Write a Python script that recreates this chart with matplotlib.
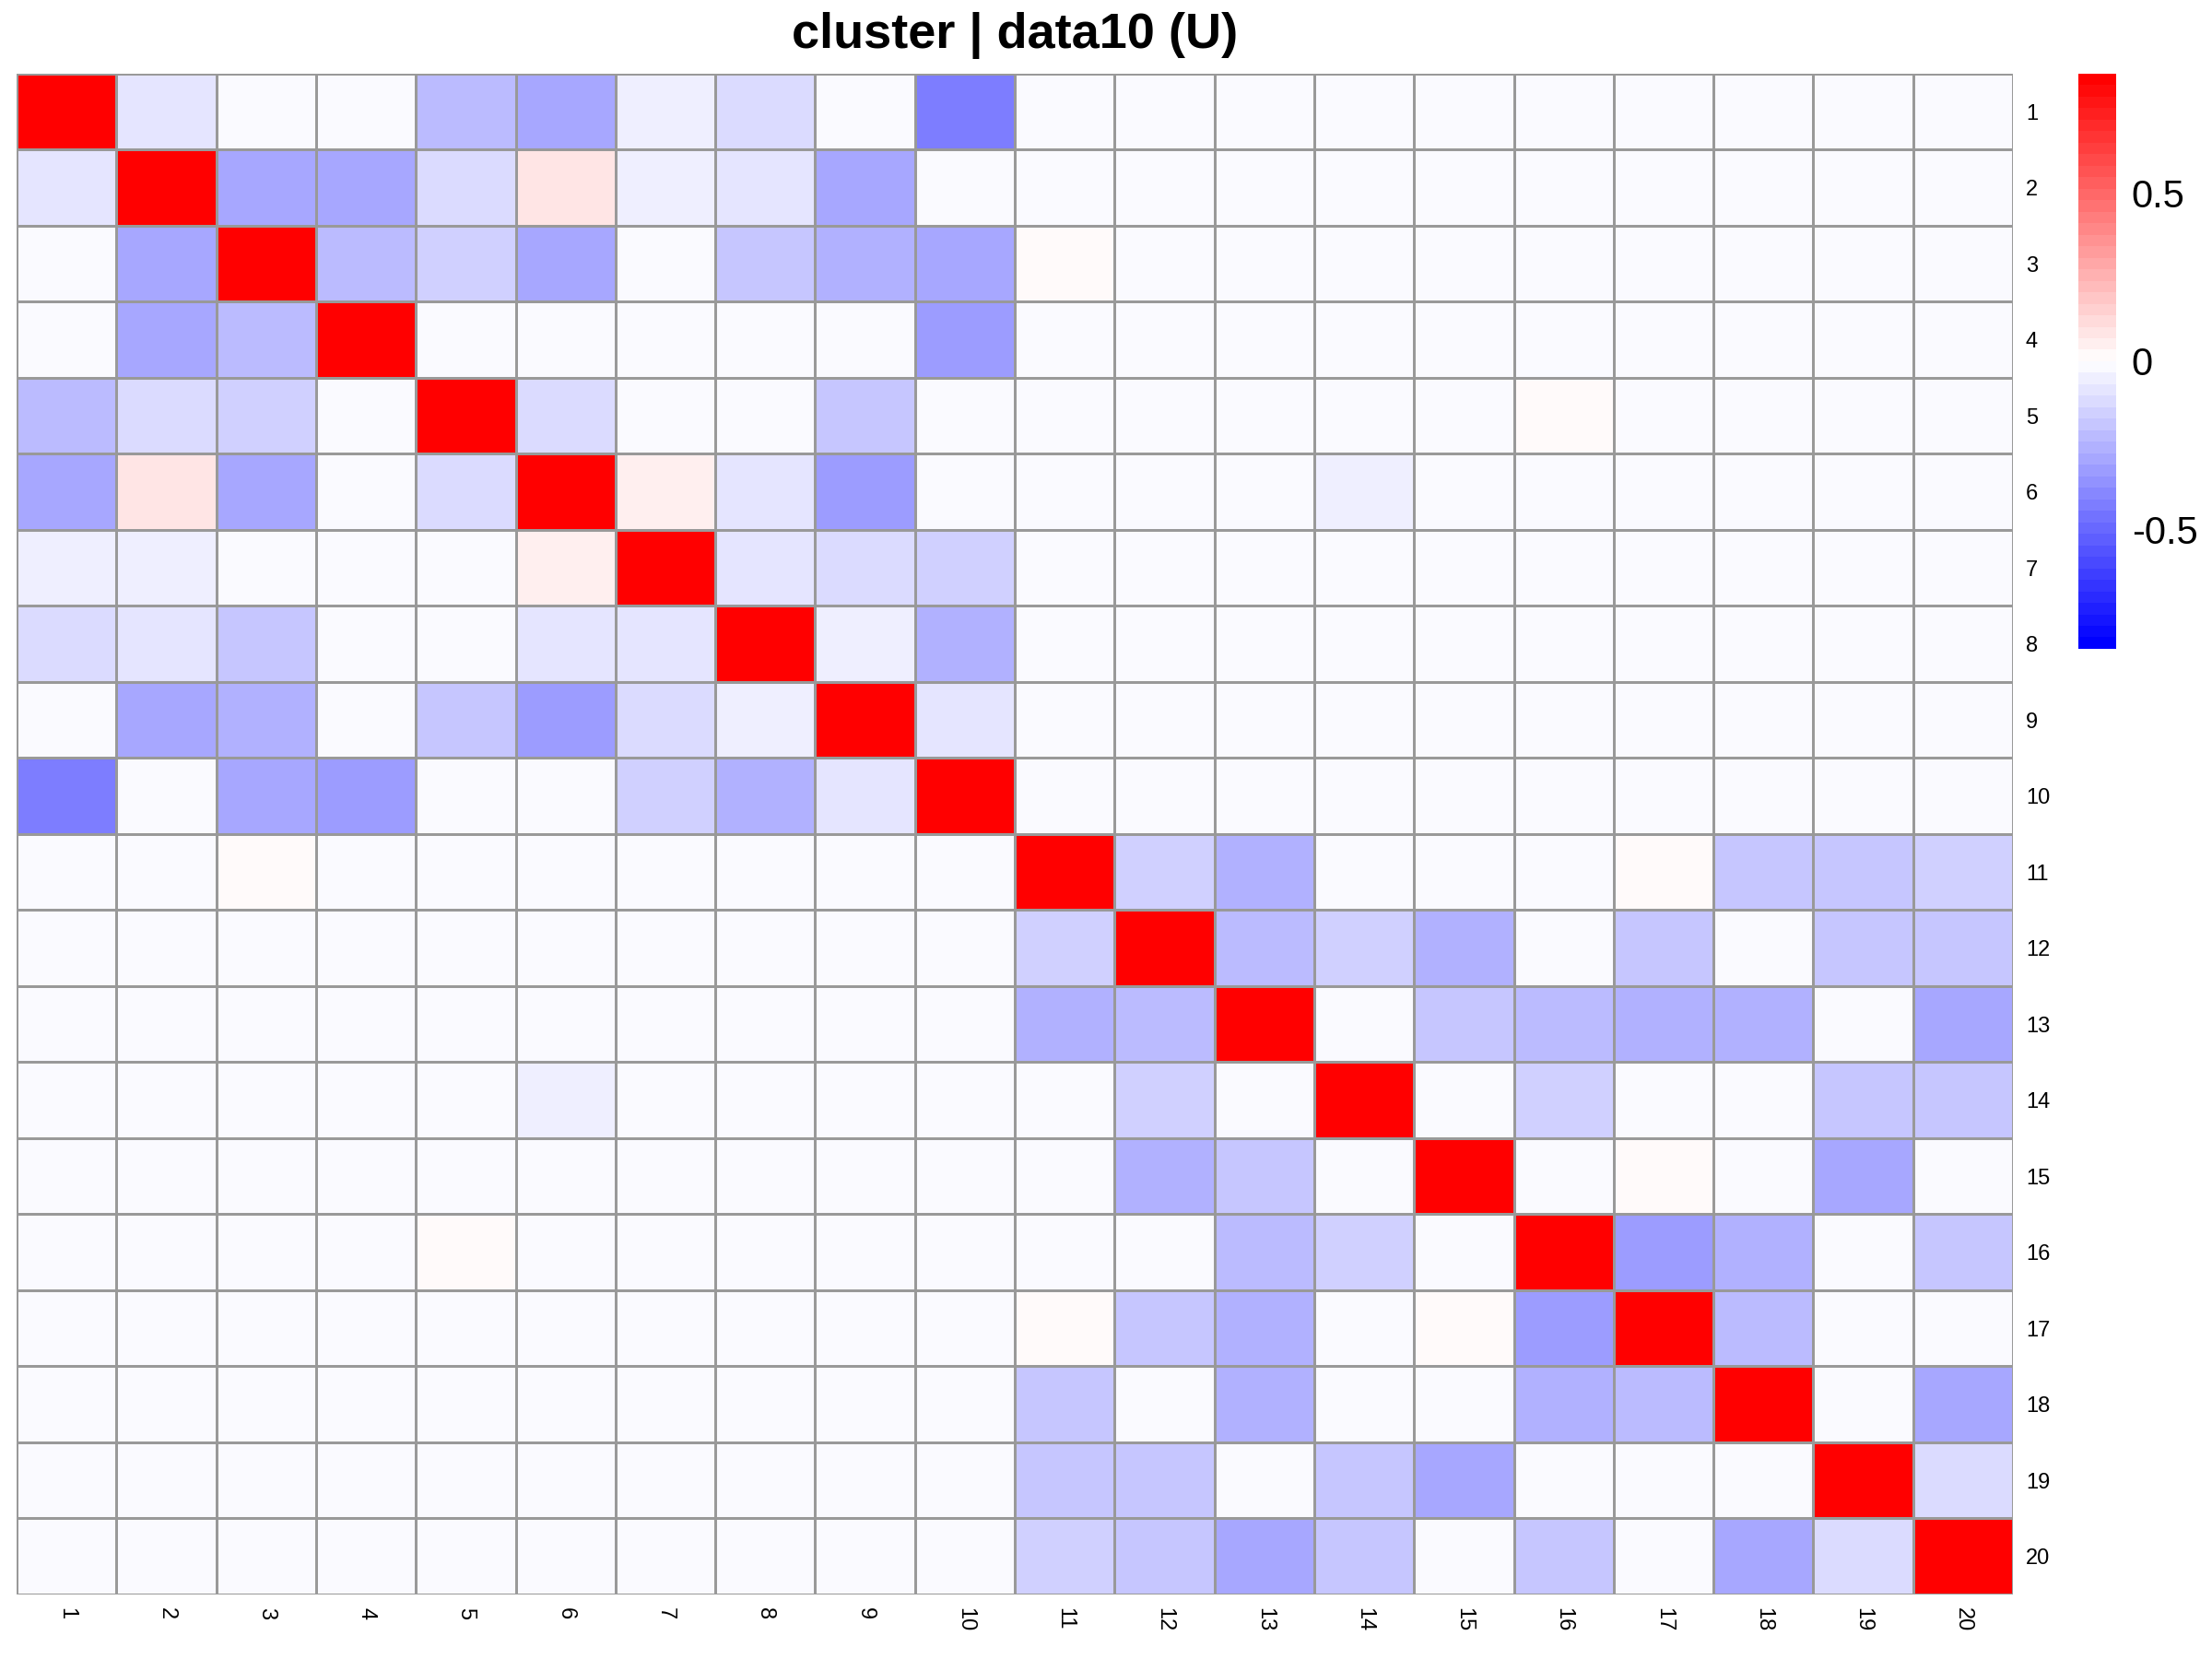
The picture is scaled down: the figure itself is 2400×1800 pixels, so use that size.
import numpy as np
import matplotlib
matplotlib.use("Agg")
import matplotlib.pyplot as plt
from matplotlib.colors import ListedColormap, Normalize

plt.rcParams['font.family'] = ['Liberation Sans', 'DejaVu Sans']

labels = [str(i) for i in range(1, 21)]
title = "cluster | data10 (U)"

# correlation-like matrix (diagonal = 1)
corr = [
    [1.00, -0.10, -0.01, -0.01, -0.23, -0.30, -0.06, -0.13, -0.01, -0.43, -0.01, -0.01, -0.01, -0.01, -0.01, -0.01, -0.01, -0.01, -0.01, -0.01],
    [-0.10, 1.00, -0.30, -0.30, -0.13, 0.10, -0.06, -0.10, -0.30, -0.01, -0.01, -0.01, -0.01, -0.01, -0.01, -0.01, -0.01, -0.01, -0.01, -0.01],
    [-0.01, -0.30, 1.00, -0.23, -0.16, -0.30, -0.01, -0.19, -0.27, -0.29, 0.01, -0.01, -0.01, -0.01, -0.01, -0.01, -0.01, -0.01, -0.01, -0.01],
    [-0.01, -0.30, -0.23, 1.00, -0.01, -0.01, -0.01, -0.01, -0.01, -0.33, -0.01, -0.01, -0.01, -0.01, -0.01, -0.01, -0.01, -0.01, -0.01, -0.01],
    [-0.23, -0.13, -0.16, -0.01, 1.00, -0.13, -0.01, -0.01, -0.19, -0.01, -0.01, -0.01, -0.01, -0.01, -0.01, 0.01, -0.01, -0.01, -0.01, -0.01],
    [-0.30, 0.10, -0.30, -0.01, -0.13, 1.00, 0.06, -0.10, -0.33, -0.01, -0.01, -0.01, -0.01, -0.06, -0.01, -0.01, -0.01, -0.01, -0.01, -0.01],
    [-0.06, -0.06, -0.01, -0.01, -0.01, 0.06, 1.00, -0.10, -0.13, -0.16, -0.01, -0.01, -0.01, -0.01, -0.01, -0.01, -0.01, -0.01, -0.01, -0.01],
    [-0.13, -0.10, -0.19, -0.01, -0.01, -0.10, -0.10, 1.00, -0.06, -0.24, -0.01, -0.01, -0.01, -0.01, -0.01, -0.01, -0.01, -0.01, -0.01, -0.01],
    [-0.01, -0.30, -0.27, -0.01, -0.19, -0.33, -0.13, -0.06, 1.00, -0.10, -0.01, -0.01, -0.01, -0.01, -0.01, -0.01, -0.01, -0.01, -0.01, -0.01],
    [-0.43, -0.01, -0.29, -0.33, -0.01, -0.01, -0.16, -0.24, -0.10, 1.00, -0.01, -0.01, -0.01, -0.01, -0.01, -0.01, -0.01, -0.01, -0.01, -0.01],
    [-0.01, -0.01, 0.01, -0.01, -0.01, -0.01, -0.01, -0.01, -0.01, -0.01, 1.00, -0.16, -0.26, -0.01, -0.01, -0.01, 0.01, -0.19, -0.19, -0.16],
    [-0.01, -0.01, -0.01, -0.01, -0.01, -0.01, -0.01, -0.01, -0.01, -0.01, -0.16, 1.00, -0.23, -0.16, -0.24, -0.01, -0.19, -0.01, -0.19, -0.20],
    [-0.01, -0.01, -0.01, -0.01, -0.01, -0.01, -0.01, -0.01, -0.01, -0.01, -0.26, -0.23, 1.00, -0.01, -0.19, -0.23, -0.26, -0.27, -0.01, -0.29],
    [-0.01, -0.01, -0.01, -0.01, -0.01, -0.06, -0.01, -0.01, -0.01, -0.01, -0.01, -0.16, -0.01, 1.00, -0.01, -0.16, -0.01, -0.01, -0.19, -0.20],
    [-0.01, -0.01, -0.01, -0.01, -0.01, -0.01, -0.01, -0.01, -0.01, -0.01, -0.01, -0.24, -0.19, -0.01, 1.00, -0.01, 0.01, -0.01, -0.30, -0.01],
    [-0.01, -0.01, -0.01, -0.01, 0.01, -0.01, -0.01, -0.01, -0.01, -0.01, -0.01, -0.01, -0.23, -0.16, -0.01, 1.00, -0.33, -0.27, -0.01, -0.19],
    [-0.01, -0.01, -0.01, -0.01, -0.01, -0.01, -0.01, -0.01, -0.01, -0.01, 0.01, -0.19, -0.26, -0.01, 0.01, -0.33, 1.00, -0.23, -0.01, -0.01],
    [-0.01, -0.01, -0.01, -0.01, -0.01, -0.01, -0.01, -0.01, -0.01, -0.01, -0.19, -0.01, -0.27, -0.01, -0.01, -0.27, -0.23, 1.00, -0.01, -0.30],
    [-0.01, -0.01, -0.01, -0.01, -0.01, -0.01, -0.01, -0.01, -0.01, -0.01, -0.19, -0.19, -0.01, -0.19, -0.30, -0.01, -0.01, -0.01, 1.00, -0.13],
    [-0.01, -0.01, -0.01, -0.01, -0.01, -0.01, -0.01, -0.01, -0.01, -0.01, -0.16, -0.20, -0.29, -0.19, -0.01, -0.19, -0.01, -0.30, -0.13, 1.00],
]
lim = 0.855

# blue-white-red ramp with 50 steps, like colorRampPalette in R
n = 50
cols = []
for i in range(n):
    t = i / (n - 1)
    if t < 0.5:
        f = t / 0.5
        cols.append((round(255 * f) / 255, round(255 * f) / 255, 1.0))
    else:
        f = (t - 0.5) / 0.5
        cols.append((1.0, round(255 * (1 - f)) / 255, round(255 * (1 - f)) / 255))
cmap = ListedColormap(cols)
norm = Normalize(vmin=-lim, vmax=lim, clip=True)

fig = plt.figure(figsize=(12, 9), dpi=200)
ax = fig.add_axes([0.0075, 0.0389, 0.9025, 0.9167])
data = np.array(corr)
ax.pcolormesh(data, cmap=cmap, norm=norm, edgecolors='#999999', linewidth=1.0)
ax.set_xlim(0, 20)
ax.set_ylim(20, 0)
for s in ax.spines.values():
    s.set_visible(False)

ax.set_xticks(np.arange(20) + 0.5)
ax.set_xticklabels(labels, rotation=-90, fontsize=8.5, va='top', ha='center')
ax.yaxis.tick_right()
ax.set_yticks(np.arange(20) + 0.5)
ax.set_yticklabels(labels, fontsize=8.5)
ax.tick_params(length=0, pad=5)

fig.text(0.459, 0.971, title, ha='center', va='baseline', fontsize=19.5, fontweight='bold')

# legend bar
cax = fig.add_axes([0.9396, 0.6089, 0.0171, 0.3467])
edges = np.linspace(-lim, lim, n + 1)
cax.pcolormesh([0, 1], edges, ((edges[:-1] + edges[1:]) / 2).reshape(-1, 1), cmap=cmap, norm=norm)
cax.set_ylim(-lim, lim)
cax.set_xlim(0, 1)
for s in cax.spines.values():
    s.set_visible(False)
cax.set_xticks([])
cax.yaxis.tick_right()
cax.set_yticks([-0.5, 0, 0.5])
cax.set_yticklabels(['-0.5', '0', '0.5'], fontsize=15)
cax.tick_params(length=0, pad=6)

fig.savefig('out.png', dpi=200)
